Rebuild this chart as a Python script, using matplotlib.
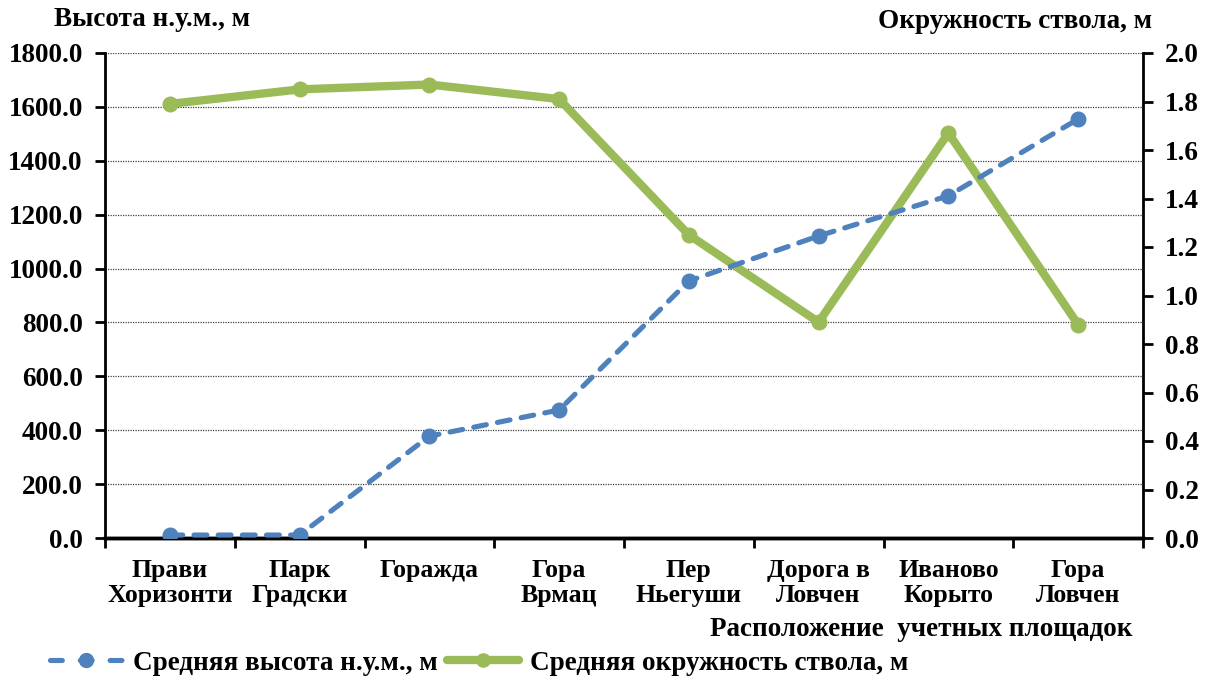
import matplotlib
matplotlib.use("Agg")
import matplotlib.pyplot as plt
from matplotlib.lines import Line2D
import numpy as np

categories = ["Прави\nХоризонти", "Парк\nГрадски", "Горажда", "Гора\nВрмац",
              "Пер\nНьегуши", "Дорога в\nЛовчен", "Иваново\nКорыто", "Гора\nЛовчен"]
height_m = [11, 11, 378, 475, 954, 1121, 1270, 1555]
girth_m = [1.79, 1.85, 1.87, 1.81, 1.25, 0.89, 1.67, 0.88]
left_ticks = [0, 200, 400, 600, 800, 1000, 1200, 1400, 1600, 1800]
right_ticks = [0.0, 0.2, 0.4, 0.6, 0.8, 1.0, 1.2, 1.4, 1.6, 1.8, 2.0]

plt.rcParams['font.family'] = ['Liberation Serif', 'DejaVu Serif']
plt.rcParams['font.weight'] = 'bold'

BLUE = '#4F81BD'
GREEN = '#9BBB59'
FS = 19.5
FSC = 18.5

fig = plt.figure(figsize=(12.07, 6.79), dpi=100)
ax = fig.add_axes([105/1207, 1-538/679, (1143-105)/1207, (538-53)/679])
ax2 = ax.twinx()

x = np.arange(len(categories))
ax.set_xlim(-0.5, len(categories)-0.5)
ax.set_ylim(0, 1800)
ax2.set_ylim(0, 2.0)

ax.set_yticks(left_ticks)
ax.set_yticklabels([f"{v:.1f}" for v in left_ticks], fontsize=FS, fontweight='bold')
ax2.set_yticks(right_ticks)
ax2.set_yticklabels([f"{v:.1f}" for v in right_ticks], fontsize=FS, fontweight='bold')

ax.set_xticks(x)
ax.set_xticklabels(categories, fontsize=FSC, fontweight='bold', linespacing=1.12)
ax.set_xticks(np.arange(-0.5, len(categories)), minor=True)
ax.tick_params(axis='x', which='major', length=0, pad=15)
ax.tick_params(axis='x', which='minor', length=7, width=2, direction='out')
ax.tick_params(axis='y', length=7, width=2, direction='out', pad=9)
ax2.tick_params(axis='y', length=7, width=2, direction='out', pad=9)

for a in (ax, ax2):
    a.spines['top'].set_visible(False)
    a.spines['left'].set_linewidth(2)
    a.spines['right'].set_linewidth(2)
    a.spines['bottom'].set_linewidth(2.5)
ax2.spines['left'].set_visible(False)
ax.spines['right'].set_visible(False)

for v in left_ticks[1:]:
    ax.axhline(v, color='#404040', lw=0.9, ls=(0, (1, 1)), zorder=0.5)

ax2.plot(x, girth_m, color=GREEN, lw=6, marker='o', ms=10.5, zorder=2,
         solid_capstyle='round')
ax2.plot(x, height_m, color=BLUE, lw=3.7, ls=(0, (2.5, 2.2)), dash_capstyle='round',
         marker='o', ms=10.5, transform=ax.transData, zorder=3)
ax2.set_ylim(0, 2.0)

fig.text(54/1207, 1-19/679, "Высота н.у.м., м", fontsize=FS, fontweight='bold',
         ha='left', va='center')
fig.text(1152/1207, 1-22/679, "Окружность ствола, м", fontsize=FS, fontweight='bold',
         ha='right', va='center')
fig.text(1133/1207, 1-629/679, "Расположение  учетных площадок", fontsize=FS,
         fontweight='bold', ha='right', va='center')

h1 = Line2D([], [], color=BLUE, lw=3.7, ls=(0, (2.3, 3.5)), dash_capstyle='round',
            marker='o', ms=10)
h2 = Line2D([], [], color=GREEN, lw=6, marker='o', ms=9.5, solid_capstyle='round')
fig.legend([h1, h2], ["Средняя высота н.у.м., м", "Средняя окружность ствола, м"],
           loc='center left', bbox_to_anchor=(50/1207, 1-663/679), ncol=2,
           frameon=False, handlelength=2.65, handletextpad=0.4,
           columnspacing=0.37, borderpad=0, borderaxespad=0,
           prop={'weight': 'bold', 'size': FS})

fig.savefig("out.png", dpi=100)
